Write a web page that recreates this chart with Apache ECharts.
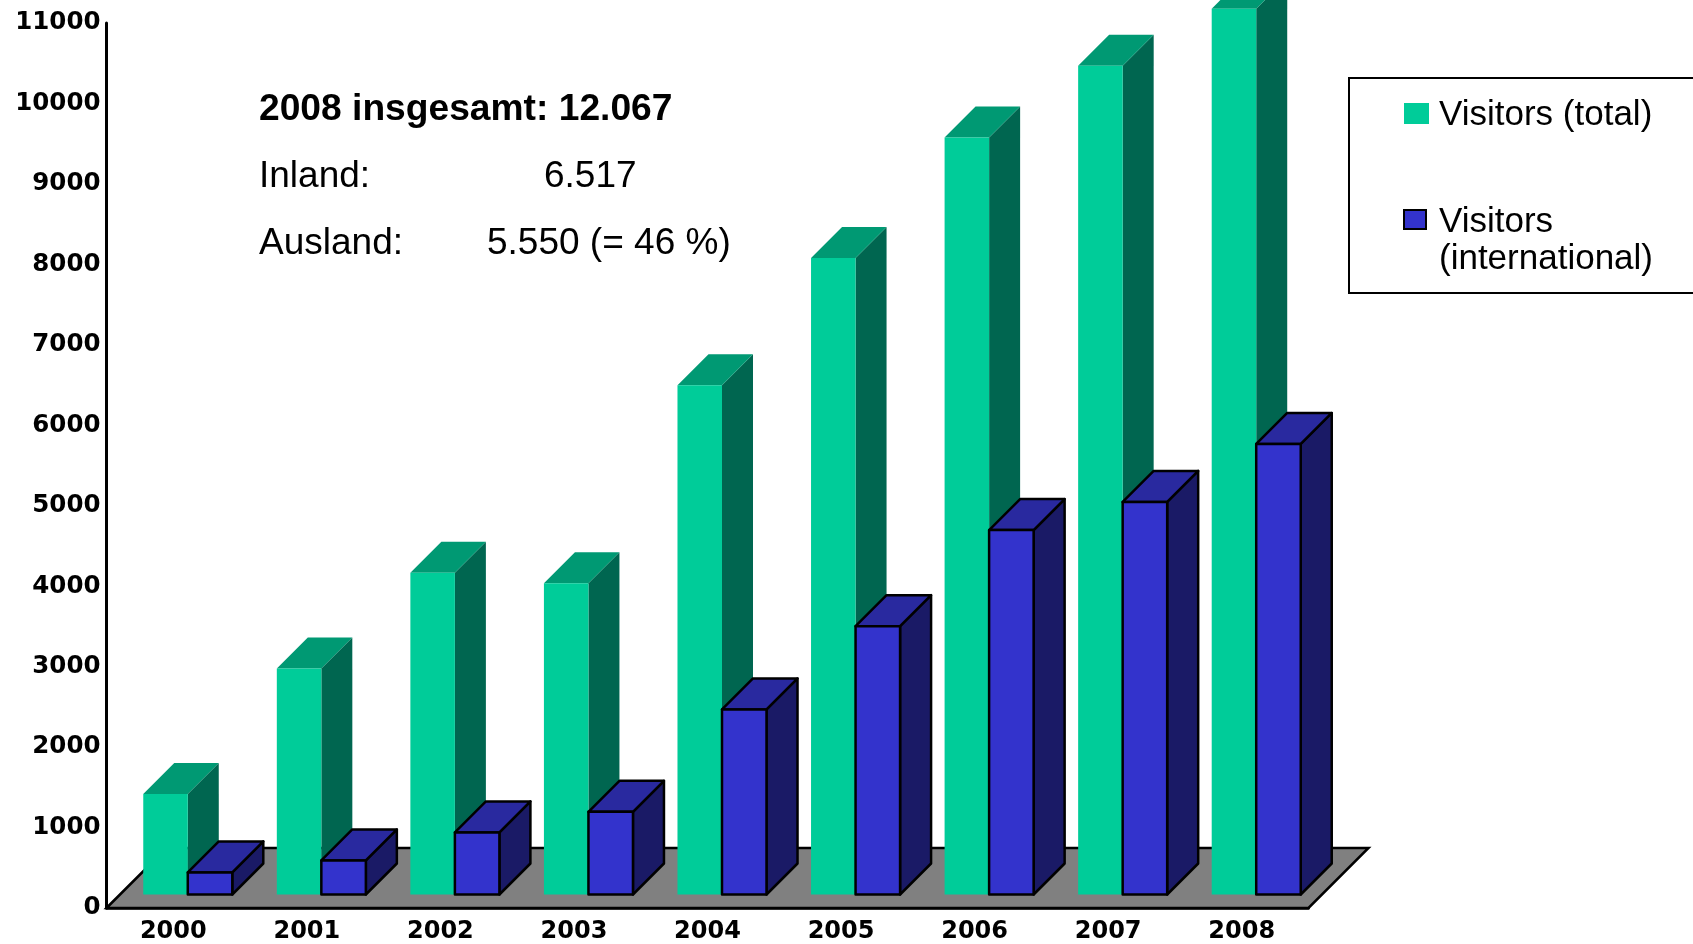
<!DOCTYPE html>
<html>
<head>
<meta charset="utf-8">
<title>Visitors 2000-2008</title>
<style>
  html, body { margin: 0; padding: 0; background: #fff; overflow: hidden; }
  #chart { width: 1693px; height: 944px; }
</style>
</head>
<body>
<div id="chart"></div>
<script src="https://cdn.jsdelivr.net/npm/echarts@6/dist/echarts.min.js"></script>
<script>
const years = ['2000', '2001', '2002', '2003', '2004', '2005', '2006', '2007', '2008']
const total = [1250, 2810, 4000, 3870, 6330, 7910, 9410, 10300, 11010]
const international = [275, 423, 772, 1027, 2300, 3335, 4530, 4880, 5600]
const yMax = 11000
const yStep = 1000

const totalName = 'Visitors (total)'
const intlName = 'Visitors\n(international)'

const sansBold = '"DejaVu Sans"'
const sans = '"Liberation Sans", Arial, sans-serif'

// depth of the fake 3d box and of the floor, in pixels
const barDepth = 31
const floorDepth = 60
const barInsetX = 14.5
const barInsetY = 13.5

const chart = echarts.init(document.getElementById('chart'))

function box(colors, stroke, side) {
  return function (params, api) {
    const i = api.value(0)
    const top = api.coord([i, api.value(1)])
    const base = api.coord([i, 0])
    const w = api.size([1, 0])[0] / 3
    const x0 = top[0] + barInsetX + (side < 0 ? -w : 0)
    const x1 = x0 + w
    const y0 = top[1] - barInsetY
    const y1 = base[1] - barInsetY
    const style = c => ({ fill: c, stroke: stroke || c, lineWidth: stroke ? 2.5 : 0, lineJoin: 'round' })
    return {
      type: 'group',
      children: [
        {
          type: 'polygon',
          shape: { points: [[x1, y0], [x1 + barDepth, y0 - barDepth], [x1 + barDepth, y1 - barDepth], [x1, y1]] },
          style: style(colors.side)
        },
        {
          type: 'polygon',
          shape: { points: [[x0, y0], [x0 + barDepth, y0 - barDepth], [x1 + barDepth, y0 - barDepth], [x1, y0]] },
          style: style(colors.top)
        },
        {
          type: 'rect',
          shape: { x: x0, y: y0, width: w, height: y1 - y0 },
          style: style(colors.front)
        }
      ]
    }
  }
}

function floor(params) {
  const c = params.coordSys
  const b = c.y + c.height
  return {
    type: 'polygon',
    shape: {
      points: [
        [c.x, b],
        [c.x + floorDepth, b - floorDepth],
        [c.x + c.width + floorDepth, b - floorDepth],
        [c.x + c.width, b]
      ]
    },
    style: { fill: '#808080', stroke: '#000', lineWidth: 2.5 }
  }
}

const blockText = (text, x, y, bold) => ({
  type: 'text',
  x,
  y,
  style: {
    text,
    fill: '#000',
    font: (bold ? 'bold 37.2px ' : '37px ') + sans,
    textVerticalAlign: 'middle'
  }
})

const legendText = (text, y) => ({
  type: 'text',
  x: 1439,
  y,
  style: { text, fill: '#000', font: '35px ' + sans, textVerticalAlign: 'middle' }
})

chart.setOption({
  animation: false,
  grid: { left: 106.5, top: 23, width: 1202, height: 885 },
  xAxis: {
    type: 'category',
    data: years,
    axisLine: { lineStyle: { color: '#000', width: 2.5 } },
    axisTick: { show: false },
    axisLabel: { color: '#000', fontFamily: sansBold, fontWeight: 'bold', fontSize: 24, margin: 12 }
  },
  yAxis: {
    type: 'value',
    min: 0,
    max: yMax,
    interval: yStep,
    axisLine: { show: true, lineStyle: { color: '#000', width: 3 } },
    axisTick: { show: false },
    splitLine: { show: false },
    axisLabel: {
      color: '#000',
      fontFamily: sansBold,
      fontWeight: 'bold',
      fontSize: 24.5,
      margin: 6,
      padding: [8, 0, 0, 0],
      formatter: v => String(v)
    }
  },
  series: [
    {
      type: 'custom',
      silent: true,
      data: [[0, 0]],
      renderItem: floor,
      z: 1
    },
    {
      name: totalName,
      type: 'custom',
      data: total.map((v, i) => [i, v]),
      renderItem: box({ front: '#00CC99', top: '#009973', side: '#006650' }, null, -1),
      z: 2
    },
    {
      name: intlName,
      type: 'custom',
      data: international.map((v, i) => [i, v]),
      renderItem: box({ front: '#3333CC', top: '#29299F', side: '#1A1A66' }, '#000', 1),
      z: 3
    }
  ],
  graphic: [
    blockText('2008 insgesamt: 12.067', 259, 110, true),
    blockText('Inland:', 259, 177),
    blockText('6.517', 544, 177),
    blockText('Ausland:', 259, 244),
    blockText('5.550 (= 46 %)', 487, 244),
    {
      type: 'rect',
      shape: { x: 1349, y: 78, width: 360, height: 215 },
      style: { fill: '#fff', stroke: '#000', lineWidth: 2 }
    },
    {
      type: 'rect',
      shape: { x: 1404, y: 103, width: 25, height: 21 },
      style: { fill: '#00CC99' }
    },
    {
      type: 'rect',
      shape: { x: 1404, y: 210, width: 22, height: 19 },
      style: { fill: '#3333CC', stroke: '#000', lineWidth: 2 }
    },
    legendText(totalName, 115),
    legendText(intlName.split('\n')[0], 222),
    legendText(intlName.split('\n')[1], 259)
  ]
})
</script>
</body>
</html>
